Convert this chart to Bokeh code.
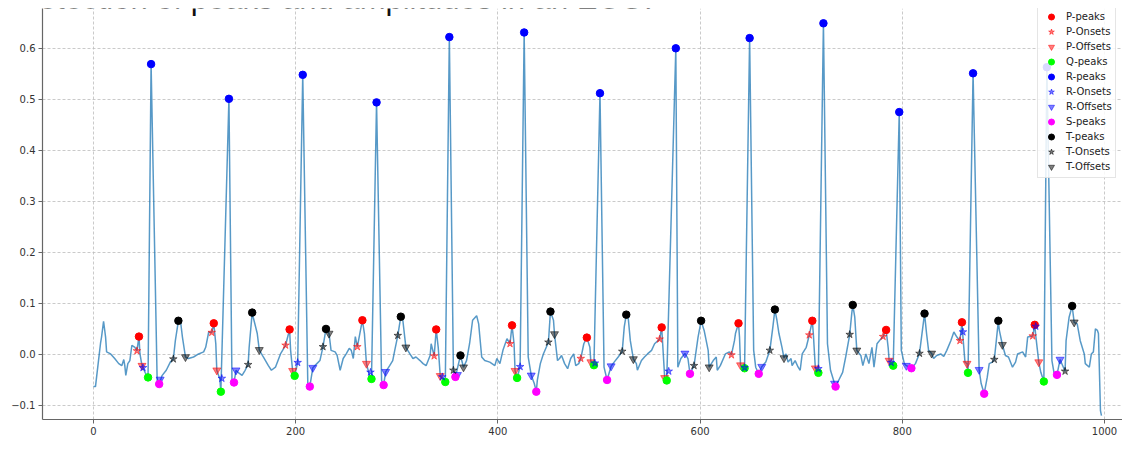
from bokeh.plotting import figure
from bokeh.models import FixedTicker, Range1d, Legend, LegendItem, Label
from bokeh.embed import file_html
from bokeh.resources import INLINE

# ---------------- data ----------------
ecg_x = [0, 2, 5, 7, 8, 10, 12, 13, 17, 21, 25, 28, 30, 31, 32, 34, 36, 38, 41, 43, 45, 46, 48, 51, 54,
         57, 63, 65, 68, 72, 76, 79, 81, 84, 86, 88, 91, 94, 99, 104, 109, 111, 114, 117, 119, 121, 122,
         125, 126, 134, 137, 139, 141, 143, 147, 150, 153, 154, 157, 158, 162, 164, 168, 173, 176, 180,
         185, 190, 194, 195, 197, 199, 202, 207, 212, 214, 217, 221, 224, 227, 230, 232, 233, 235, 239,
         241, 244, 247, 250, 253, 255, 257, 259, 261, 265, 266, 268, 270, 273, 275, 280, 285, 287, 289,
         293, 296, 298, 301, 304, 306, 309, 313, 316, 319, 323, 326, 329, 333, 334, 337, 339, 341, 343,
         346, 348, 352, 356, 358, 363, 366, 369, 372, 375, 379, 381, 384, 387, 392, 397, 399, 402, 405,
         409, 412, 414, 416, 417, 419, 422, 426, 430, 433, 436, 438, 439, 442, 445, 450, 451, 452, 455,
         456, 459, 461, 463, 466, 469, 472, 475, 477, 480, 482, 485, 488, 491, 492, 495, 501, 505, 508,
         512, 515, 519, 523, 525, 527, 529, 531, 534, 537, 538, 542, 545, 548, 552, 555, 560, 562, 563,
         565, 567, 576, 578, 581, 585, 588, 590, 594, 598, 601, 604, 608, 609, 613, 616, 617, 620, 625,
         629, 631, 634, 635, 638, 639, 640, 644, 649, 653, 655, 658, 661, 665, 669, 672, 674, 676, 678,
         681, 683, 685, 687, 690, 691, 694, 697, 699, 701, 705, 708, 711, 712, 714, 717, 722, 726, 729,
         733, 734, 737, 741, 744, 748, 750, 751, 753, 755, 759, 761, 764, 767, 770, 772, 775, 779, 781,
         784, 786, 787, 791, 797, 799, 802, 804, 809, 813, 817, 822, 824, 826, 829, 831, 834, 838, 841,
         844, 848, 851, 854, 857, 859, 860, 862, 864, 865, 870, 876, 878, 881, 884, 886, 889, 891, 893,
         895, 896, 899, 902, 905, 909, 912, 914, 919, 922, 924, 929, 931, 932, 935, 937, 940, 943, 948,
         950, 953, 956, 961, 962, 965, 968, 970, 973, 976, 980, 981, 985, 987, 989, 991, 993, 994, 996, 997]
ecg_y = [-0.063, -0.063, -0.012, 0.022, 0.034, 0.065, 0.034, 0.005, 0.001, -0.008, -0.018, -0.022, -0.010,
         -0.022, -0.041, -0.018, -0.012, 0.018, 0.014, 0.007, 0.035, 0.001, -0.022, -0.035, -0.045,
         0.569, -0.051, -0.058, -0.041, -0.031, -0.015, -0.009, 0.027, 0.066, 0.067, 0.034, -0.005,
         -0.008, -0.005, 0.001, 0.005, 0.014, 0.044, 0.043, 0.061, 0.021, -0.031,
         -0.048, -0.073, 0.501, -0.051, -0.055, -0.031, -0.035, -0.041, -0.031, -0.020, 0.014, 0.082,
         0.073, 0.041, 0.009, -0.005, -0.022, -0.031, -0.025,
         0.001, 0.018, 0.049, 0.008, -0.032, -0.042, -0.016, 0.548, -0.057, -0.063, -0.026, -0.018,
         -0.012, 0.015, 0.050, 0.044, 0.041, 0.008, 0.005,
         -0.002, -0.031, -0.008, 0.001, 0.012, 0.008, -0.008, 0.035, 0.015, 0.057, 0.067, 0.041, -0.018,
         -0.041, -0.048, 0.494, -0.051, -0.060, -0.034,
         -0.022, -0.012, 0.008, 0.037, 0.074, 0.067, 0.014, 0.001, -0.008, -0.005, -0.012, -0.018,
         -0.022, -0.002, 0.021, -0.003, 0.049, 0.014, -0.042,
         -0.048, -0.054, 0.622, -0.031, -0.044, -0.002, -0.025, -0.012, 0.021, 0.067, 0.076, 0.060,
         -0.005, -0.012, -0.015, -0.022, -0.008, -0.018, 0.008,
         0.031, 0.021, 0.057, 0.021, -0.032, -0.046, -0.024, 0.631, -0.005, -0.041, -0.057, -0.073,
         -0.051, -0.018, 0.001, 0.024, 0.054, 0.084, 0.067,
         0.040, -0.012, -0.008, -0.002, -0.018, -0.028, -0.008, 0.001, -0.022, -0.018, -0.008, 0.021,
         0.033, 0.014, -0.015, -0.021, 0.512, -0.025, -0.050,
         -0.023, -0.015, -0.005, 0.006, 0.054, 0.078, 0.070, 0.027, -0.009, -0.018, -0.031, -0.012,
         -0.005, 0.001, 0.008, 0.021, 0.030, 0.053, 0.021,
         -0.046, -0.051, 0.600, -0.025, -0.008, 0.002, -0.008, -0.038, -0.022, 0.034, 0.066, 0.047,
         0.008, -0.025, -0.012, -0.005, -0.031, -0.022, 0.001,
         0.005, -0.001, 0.027, 0.041, 0.061, 0.034, -0.021, -0.027, 0.620, 0.008, -0.025, -0.038,
         -0.024, -0.015, 0.008, 0.054, 0.088, 0.067, 0.041,
         0.014, -0.007, 0.001, -0.015, -0.008, -0.022, -0.012, -0.025, -0.031, 0.001, 0.014, 0.038,
         0.066, 0.041, -0.027, -0.036, 0.649, 0.021, -0.031,
         -0.057, -0.063, -0.051, -0.035, -0.005, 0.039, 0.080, 0.097, 0.073, 0.008, -0.002, -0.022,
         0.001, -0.018, 0.014, -0.025, 0.021, 0.031, 0.035,
         0.048, 0.014, -0.012, -0.022, 0.475, 0.008, -0.018, -0.022, -0.027, -0.018, 0.002, 0.080,
         0.041, 0.008, 0.002, -0.008, -0.002, 0.001, -0.004,
         0.008, 0.027, 0.044, 0.034, 0.027, 0.063, 0.034, -0.015, -0.018, -0.036, 0.551, -0.030,
         -0.057, -0.077, -0.045, -0.018, -0.015, -0.010, 0.027,
         0.066, 0.047, 0.019, -0.002, -0.005, -0.025, -0.015, 0.001, 0.005, -0.005, 0.034, 0.036,
         0.058, 0.037, -0.015, -0.035, -0.053, 0.563, -0.012,
         -0.035, -0.040, -0.010, -0.033, 0.027, 0.073, 0.095, 0.063, 0.060, 0.027, 0.001, -0.018,
         -0.025, 0.001, 0.005, 0.050, 0.047, 0.041, -0.110, -0.120]

p_peaks_x = [45, 119, 194, 266, 339, 414, 488, 562, 638, 711, 784, 859, 931]
p_peaks_y = [0.035, 0.061, 0.049, 0.067, 0.049, 0.057, 0.033, 0.053, 0.061, 0.066, 0.048, 0.063, 0.058]
p_on_x = [43, 117, 190, 261, 337, 412, 482, 560, 631, 708, 781, 857, 929]
p_on_y = [0.007, 0.043, 0.018, 0.015, -0.003, 0.021, -0.008, 0.030, -0.001, 0.038, 0.035, 0.027, 0.036]
p_off_x = [48, 122, 197, 270, 343, 417, 492, 565, 640, 714, 787, 864, 935]
p_off_y = [-0.022, -0.031, -0.032, -0.018, -0.042, -0.032, -0.015, -0.046, -0.021, -0.027, -0.012, -0.018, -0.015]
q_peaks_x = [54, 126, 199, 275, 348, 419, 495, 567, 644, 717, 791, 865, 940]
q_peaks_y = [-0.045, -0.073, -0.042, -0.048, -0.054, -0.046, -0.021, -0.051, -0.027, -0.036, -0.022, -0.036, -0.053]
r_peaks_x = [57, 134, 207, 280, 352, 426, 501, 576, 649, 722, 797, 870, 943]
r_peaks_y = [0.569, 0.501, 0.548, 0.494, 0.622, 0.631, 0.512, 0.600, 0.620, 0.649, 0.475, 0.551, 0.563]
r_on_x = [49, 127, 202, 274, 345, 422, 496, 569, 644, 717, 789, 860, 932]
r_on_y = [-0.026, -0.047, -0.016, -0.035, -0.044, -0.024, -0.017, -0.033, -0.026, -0.028, -0.016, 0.044, 0.055]
r_off_x = [66, 141, 217, 289, 360, 433, 512, 585, 661, 733, 804, 876, 956]
r_off_y = [-0.049, -0.031, -0.026, -0.034, -0.040, -0.041, -0.023, 0.002, -0.024, -0.057, -0.022, -0.030, -0.010]
s_peaks_x = [65, 139, 214, 287, 358, 438, 508, 590, 658, 734, 809, 881, 953]
s_peaks_y = [-0.058, -0.055, -0.063, -0.060, -0.044, -0.073, -0.050, -0.038, -0.038, -0.063, -0.027, -0.077, -0.040]
t_peaks_x = [84, 157, 230, 304, 363, 452, 527, 601, 674, 751, 822, 895, 968]
t_peaks_y = [0.066, 0.082, 0.050, 0.074, -0.002, 0.084, 0.078, 0.066, 0.088, 0.097, 0.080, 0.066, 0.095]
t_on_x = [79, 153, 227, 301, 356, 450, 523, 594, 669, 748, 817, 891, 961]
t_on_y = [-0.009, -0.020, 0.015, 0.037, -0.031, 0.024, 0.006, -0.022, 0.008, 0.039, 0.002, -0.010, -0.033]
t_off_x = [91, 164, 233, 309, 366, 456, 534, 609, 683, 755, 829, 899, 970]
t_off_y = [-0.005, 0.009, 0.041, 0.014, -0.025, 0.040, -0.009, -0.025, -0.007, 0.008, 0.002, 0.019, 0.063]

x_ticks = [0, 200, 400, 600, 800, 1000]
y_ticks = [-0.1, 0.0, 0.1, 0.2, 0.3, 0.4, 0.5, 0.6]
y_tick_labels = ["\u22120.1", "0.0", "0.1", "0.2", "0.3", "0.4", "0.5", "0.6"]
heading = "the detection of peaks and amplitudes in an ECG."

# ---------------- figure ----------------
Y_TOP, Y_BOT = 0.678, -0.1275
p = figure(width=1122, height=437, output_backend="svg", toolbar_location=None,
           x_range=Range1d(-50.4, 1017.8), y_range=Range1d(Y_BOT, Y_TOP),
           min_border_left=42, min_border_right=0, min_border_top=8, min_border_bottom=18)
p.outline_line_color = None
p.background_fill_color = "white"
p.border_fill_color = "white"

for ax in (p.xaxis[0], p.yaxis[0]):
    ax.axis_line_color = "#666666"
    ax.axis_line_width = 1.2
    ax.major_tick_line_color = "#666666"
    ax.major_tick_in = 0
    ax.major_tick_out = 4
    ax.minor_tick_line_color = None
    ax.major_label_text_font = "DejaVu Sans"
    ax.major_label_text_font_size = "10px"
    ax.major_label_text_color = "#333333"
    ax.major_label_standoff = 3

p.xaxis.ticker = FixedTicker(ticks=x_ticks)
p.yaxis.ticker = FixedTicker(ticks=y_ticks)
p.yaxis.major_label_overrides = {t: s for t, s in zip(y_ticks, y_tick_labels)}

for g in (p.xgrid[0], p.ygrid[0]):
    g.grid_line_color = "#bdbdbd"
    g.grid_line_dash = "3 2"
    g.grid_line_width = 0.8
p.xgrid.ticker = FixedTicker(ticks=x_ticks)
p.ygrid.ticker = FixedTicker(ticks=y_ticks)

p.line(ecg_x, ecg_y, line_color="#1f77b4", line_alpha=0.75, line_width=1.5)

specs = [
    ("P-peaks", p_peaks_x, p_peaks_y, "circle", "#ff0000", 1.0, 7.5),
    ("P-Onsets", p_on_x, p_on_y, "star", "#ff0000", 0.5, 8),
    ("P-Offsets", p_off_x, p_off_y, "inverted_triangle", "#ff0000", 0.5, 8),
    ("Q-peaks", q_peaks_x, q_peaks_y, "circle", "#00ff00", 1.0, 7.5),
    ("R-peaks", r_peaks_x, r_peaks_y, "circle", "#0000ff", 1.0, 7.5),
    ("R-Onsets", r_on_x, r_on_y, "star", "#0000ff", 0.5, 8),
    ("R-Offsets", r_off_x, r_off_y, "inverted_triangle", "#0000ff", 0.5, 8),
    ("S-peaks", s_peaks_x, s_peaks_y, "circle", "#ff00ff", 1.0, 7.5),
    ("T-peaks", t_peaks_x, t_peaks_y, "circle", "#000000", 1.0, 7.5),
    ("T-Onsets", t_on_x, t_on_y, "star", "#000000", 0.5, 8),
    ("T-Offsets", t_off_x, t_off_y, "inverted_triangle", "#000000", 0.5, 8),
]
items = []
for name, xs, ys, mk, col, al, sz in specs:
    r = p.scatter(xs, ys, marker=mk, size=sz, fill_color=col, line_color=col,
                  fill_alpha=al, line_alpha=al)
    items.append(LegendItem(label=name, renderers=[r]))

legend = Legend(items=items, location=(995, 241), padding=3, margin=0, spacing=0,
                glyph_width=20, glyph_height=15, label_height=15, label_standoff=5,
                label_text_font="DejaVu Sans", label_text_font_size="10px",
                label_text_color="#222222", border_line_color="#cccccc",
                background_fill_color="white", background_fill_alpha=0.85)
p.add_layout(legend)

p.add_layout(Label(x=553, y=Y_TOP + 9.5 / 510, text=heading, text_align="right",
                   text_baseline="alphabetic", text_font="Liberation Sans", text_font_size="31px",
                   text_color="#111111"))

open("out.html", "w").write(file_html(p, INLINE))
